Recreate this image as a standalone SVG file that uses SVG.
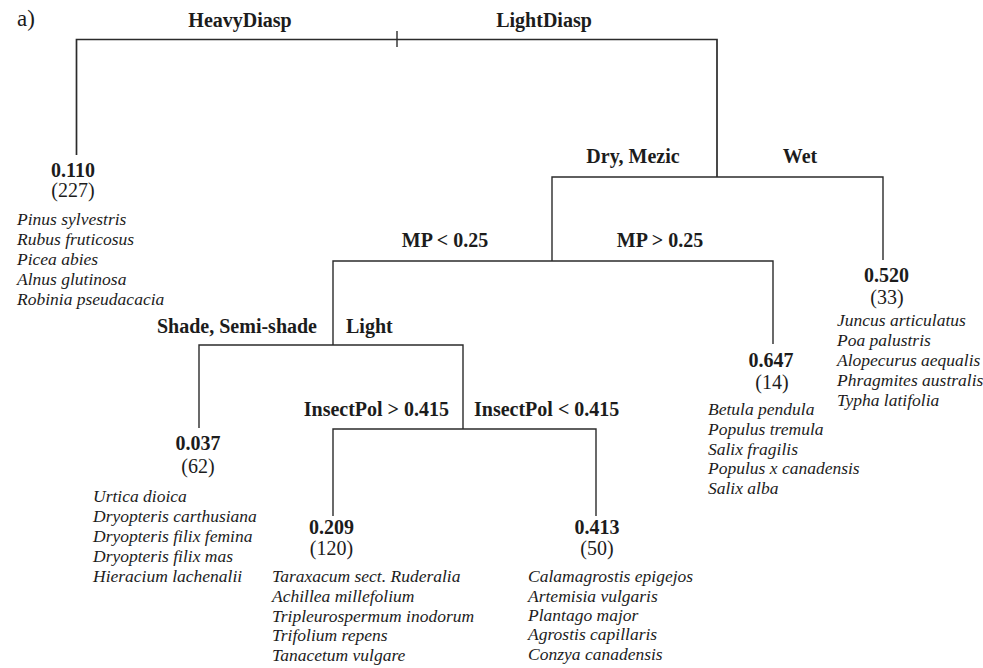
<svg xmlns="http://www.w3.org/2000/svg" width="983" height="668" viewBox="0 0 983 668">
<style>
text { font-family: "Liberation Serif", "Times New Roman", serif; fill: #1c1c1c; }
.lab { font-size: 20px; font-weight: bold; }
.val { font-size: 20px; font-weight: bold; text-anchor: middle; }
.n { font-size: 20px; text-anchor: middle; }
.sp { font-size: 17.5px; font-style: italic; }
.c { text-anchor: middle; }
.e { text-anchor: end; }
.edge { fill: none; stroke: #2b2b2b; stroke-width: 1.4; }
</style>
<rect width="983" height="668" fill="#ffffff"/>
<text x="17" y="26" style="font-size:23px">a)</text>
<g id="connectors">
  <path class="edge" d="M76.5 155 V39.5 H717 V177" style="stroke-width:1.7"/>
  <path class="edge" d="M397 31 V47"/>
  <path class="edge" d="M552 261 V177 H883 V260"/>
  <path class="edge" d="M333 345 V261 H773 V344"/>
  <path class="edge" d="M199 428 V345 H463 V429"/>
  <path class="edge" d="M333 516 V429 H596 V516"/>
</g>
<g id="split-root">
  <text class="lab c" x="240" y="27">HeavyDiasp</text>
  <text class="lab c" x="544" y="27">LightDiasp</text>
</g>
<g id="split-moisture">
  <text class="lab c" x="633" y="163">Dry, Mezic</text>
  <text class="lab c" x="800" y="163">Wet</text>
</g>
<g id="split-mp">
  <text class="lab c" x="445" y="247">MP &lt; 0.25</text>
  <text class="lab c" x="660" y="247">MP &gt; 0.25</text>
</g>
<g id="split-light">
  <text class="lab e" x="317" y="333">Shade, Semi-shade</text>
  <text class="lab" x="346" y="333">Light</text>
</g>
<g id="split-insect">
  <text class="lab e" x="449" y="416">InsectPol &gt; 0.415</text>
  <text class="lab" x="474" y="416">InsectPol &lt; 0.415</text>
</g>
<g id="leaf-0110">
  <text class="val" x="73" y="177">0.110</text>
  <text class="n" x="73" y="197">(227)</text>
  <text class="sp" x="17" y="225">Pinus sylvestris</text>
  <text class="sp" x="17" y="245">Rubus fruticosus</text>
  <text class="sp" x="17" y="265">Picea abies</text>
  <text class="sp" x="17" y="285">Alnus glutinosa</text>
  <text class="sp" x="17" y="305">Robinia pseudacacia</text>
</g>
<g id="leaf-0520">
  <text class="val" x="886.5" y="282">0.520</text>
  <text class="n" x="887" y="304">(33)</text>
  <text class="sp" x="837" y="326">Juncus articulatus</text>
  <text class="sp" x="837" y="346">Poa palustris</text>
  <text class="sp" x="837" y="366">Alopecurus aequalis</text>
  <text class="sp" x="837" y="386">Phragmites australis</text>
  <text class="sp" x="837" y="406">Typha latifolia</text>
</g>
<g id="leaf-0647">
  <text class="val" x="771" y="367">0.647</text>
  <text class="n" x="772" y="389">(14)</text>
  <text class="sp" x="708" y="415">Betula pendula</text>
  <text class="sp" x="708" y="435">Populus tremula</text>
  <text class="sp" x="708" y="455">Salix fragilis</text>
  <text class="sp" x="708" y="474">Populus x canadensis</text>
  <text class="sp" x="708" y="494">Salix alba</text>
</g>
<g id="leaf-0037">
  <text class="val" x="198" y="450">0.037</text>
  <text class="n" x="198" y="473">(62)</text>
  <text class="sp" x="93" y="502">Urtica dioica</text>
  <text class="sp" x="93" y="522">Dryopteris carthusiana</text>
  <text class="sp" x="93" y="542">Dryopteris filix femina</text>
  <text class="sp" x="93" y="562">Dryopteris filix mas</text>
  <text class="sp" x="93" y="582">Hieracium lachenalii</text>
</g>
<g id="leaf-0209">
  <text class="val" x="331.5" y="534">0.209</text>
  <text class="n" x="331.5" y="555">(120)</text>
  <text class="sp" x="272" y="582">Taraxacum sect. Ruderalia</text>
  <text class="sp" x="272" y="602">Achillea millefolium</text>
  <text class="sp" x="272" y="622">Tripleurospermum inodorum</text>
  <text class="sp" x="272" y="641">Trifolium repens</text>
  <text class="sp" x="272" y="661">Tanacetum vulgare</text>
</g>
<g id="leaf-0413">
  <text class="val" x="597" y="534">0.413</text>
  <text class="n" x="597" y="555">(50)</text>
  <text class="sp" x="528" y="582">Calamagrostis epigejos</text>
  <text class="sp" x="528" y="602">Artemisia vulgaris</text>
  <text class="sp" x="528" y="621">Plantago major</text>
  <text class="sp" x="528" y="640">Agrostis capillaris</text>
  <text class="sp" x="528" y="660">Conzya canadensis</text>
</g>
</svg>
